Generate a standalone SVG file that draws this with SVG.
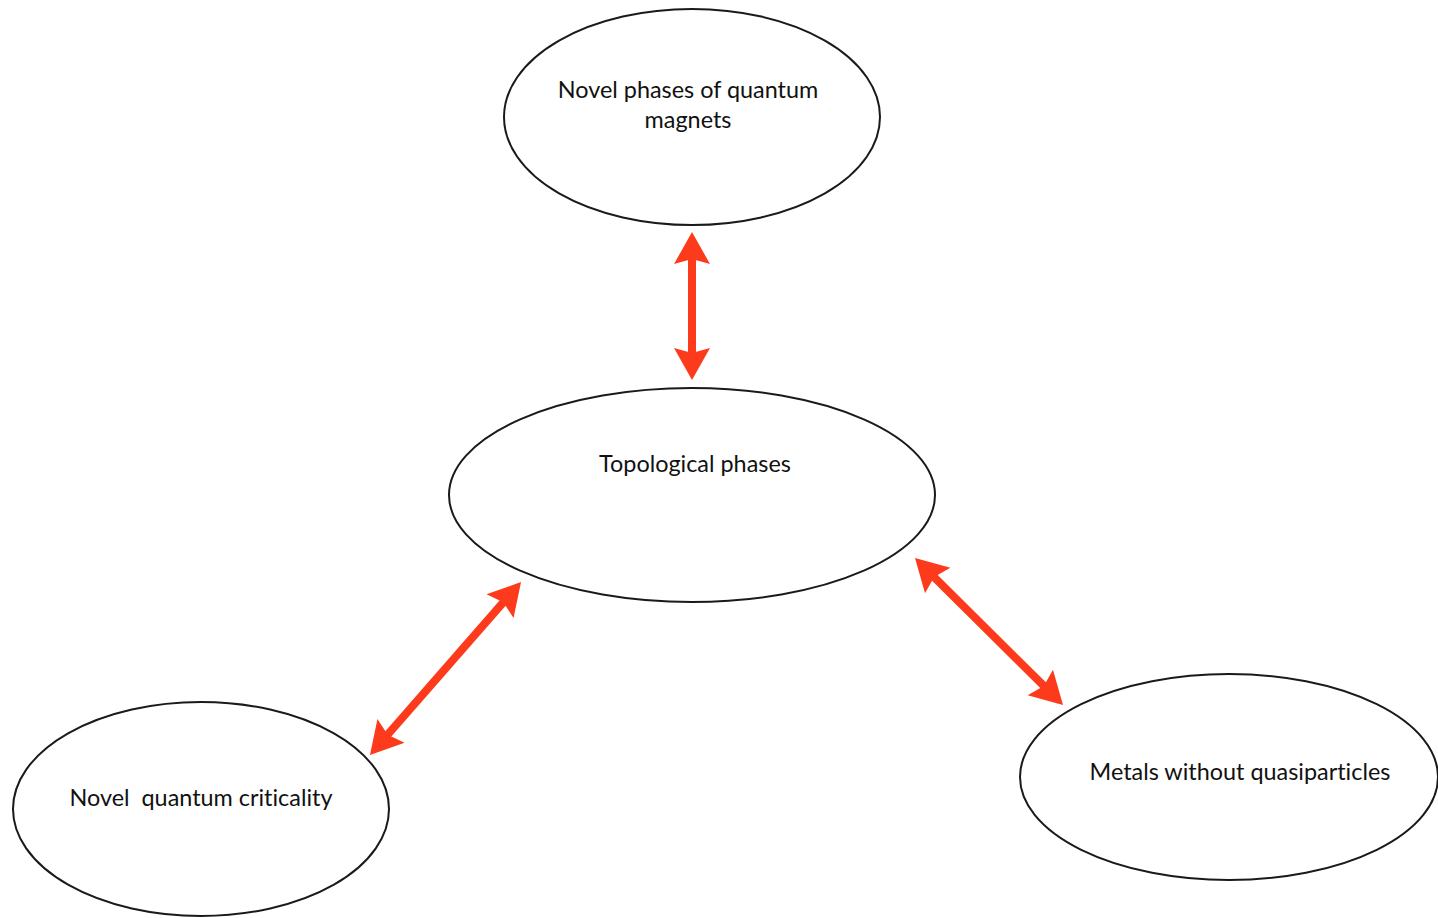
<svg xmlns="http://www.w3.org/2000/svg" width="1438" height="918" viewBox="0 0 1438 918">
<style>
.node ellipse{fill:#fff;stroke:#1a1a1a;stroke-width:2}
.node text{font-family:Lato,"Open Sans","Liberation Sans",sans-serif;font-size:23.4px;fill:#111;text-anchor:middle;font-variant-ligatures:none}
.conn line{stroke:#fd3b1c;stroke-width:8;marker-start:url(#ah);marker-end:url(#ah)}
</style>
<defs>
<marker id="ah" markerUnits="userSpaceOnUse" viewBox="0 -19 34 38" refX="21" refY="0" markerWidth="34" markerHeight="38" orient="auto-start-reverse">
<path d="M0,-18 L32,0 L0,18 L5,0 Z" fill="#fd3b1c"/>
</marker>
</defs>
<rect width="1438" height="918" fill="#fff"/>
<g id="n-magnets" class="node">
<ellipse cx="692" cy="117" rx="188" ry="108"/>
<text x="688" y="98">Novel phases of quantum</text>
<text x="688" y="128">magnets</text>
</g>
<g id="n-topological" class="node">
<ellipse cx="692" cy="495" rx="243" ry="107"/>
<text x="695" y="472">Topological phases</text>
</g>
<g id="n-criticality" class="node">
<ellipse cx="201" cy="809" rx="188" ry="107"/>
<text x="201" y="806" xml:space="preserve">Novel  quantum criticality</text>
</g>
<g id="n-metals" class="node">
<ellipse cx="1229" cy="777" rx="209" ry="103"/>
<text x="1240" y="780">Metals without quasiparticles</text>
</g>
<g id="connectors" class="conn">
<line x1="692" y1="243" x2="692" y2="369"/>
<line x1="377.2" y1="746.7" x2="513.8" y2="590.3"/>
<line x1="922.8" y1="565.8" x2="1055.2" y2="697.2"/>
</g>
</svg>
